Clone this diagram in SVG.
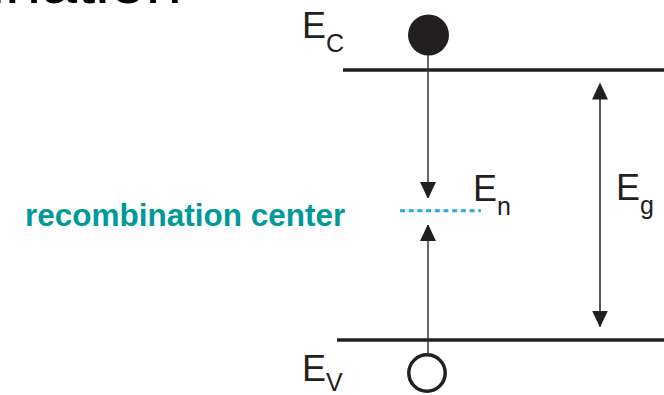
<svg xmlns="http://www.w3.org/2000/svg" width="664" height="395" viewBox="0 0 664 395">
  <style>
    .lbl { font-family: "Liberation Sans", Arial, sans-serif; fill: #231f20; }
    .big { font-size: 36px; }
    .sub { font-size: 25px; }
    .band { stroke: #231f20; stroke-width: 3.5; fill: none; }
    .arrow { stroke: #333333; stroke-width: 1.5; fill: none; }
    .gap { stroke: #555555; stroke-width: 2; fill: none; }
    .title { font-family: "Liberation Sans", Arial, sans-serif; font-size: 65px; fill: #000000; }
  </style>
  <defs>
    <marker id="ah" markerUnits="userSpaceOnUse" markerWidth="16" markerHeight="18" refX="16" refY="8" orient="auto">
      <path d="M0,0 L17,8 L0,16 Z" fill="#231f20"/>
    </marker>
  </defs>
  <rect width="664" height="395" fill="#ffffff"/>

  <text class="title" x="182" y="3" text-anchor="end">Recombination</text>

  <g id="conduction-band">
    <line class="band" x1="343" y1="70" x2="664" y2="70"/>
    <text class="lbl big" x="302" y="38">E</text>
    <text class="lbl sub" x="326" y="52">C</text>
  </g>

  <g id="valence-band">
    <line class="band" x1="337" y1="340" x2="664" y2="340"/>
    <text class="lbl big" x="302" y="381">E</text>
    <text class="lbl sub" x="326" y="391">V</text>
  </g>

  <g id="electron">
    <circle cx="428.5" cy="35" r="20.5" fill="#231f20"/>
  </g>

  <g id="hole">
    <circle cx="427" cy="373" r="18.2" fill="none" stroke="#231f20" stroke-width="3.5"/>
  </g>

  <g id="recombination-center">
    <line x1="400" y1="210.7" x2="481" y2="210.7" stroke="#29abe2" stroke-width="3" stroke-dasharray="5 3.7"/>
    <text class="lbl big" x="473" y="201">E</text>
    <text class="lbl sub" x="497" y="215">n</text>
    <text x="25" y="226" font-family="Liberation Sans, Arial, sans-serif" font-weight="bold" font-size="31.5" fill="#00999a">recombination center</text>
  </g>

  <g id="band-gap-label">
    <text class="lbl big" x="616" y="200">E</text>
    <text class="lbl sub" x="640" y="214">g</text>
  </g>

  <g id="connectors">
    <line class="arrow" x1="428" y1="55" x2="428" y2="198" marker-end="url(#ah)"/>
    <line class="arrow" x1="428" y1="355" x2="428" y2="225" marker-end="url(#ah)"/>
    <line class="gap" x1="600" y1="205" x2="600" y2="83.5" marker-end="url(#ah)"/>
    <line class="gap" x1="600" y1="205" x2="600" y2="326.5" marker-end="url(#ah)"/>
  </g>
</svg>
